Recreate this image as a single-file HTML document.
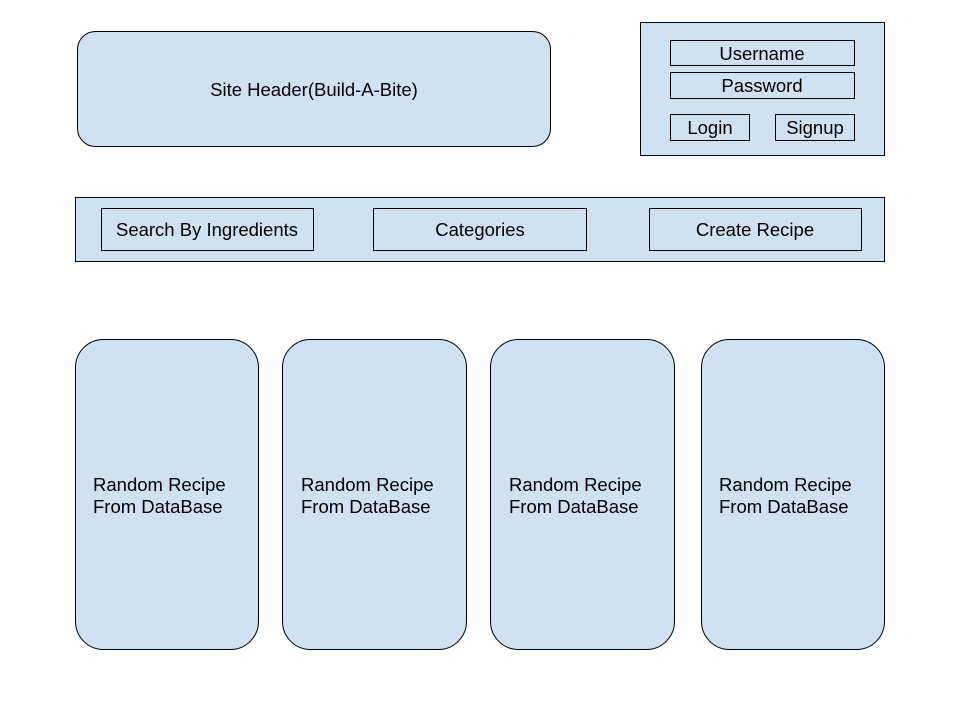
<!DOCTYPE html>
<html><head><style>html,body{margin:0;padding:0;background:#fff;}svg{display:block}</style></head>
<body>
<svg width="960" height="720" xmlns="http://www.w3.org/2000/svg" font-family="Liberation Sans, Arial, sans-serif" font-size="18.5" fill="#000">
<g fill="#cfe2f3" stroke="#000" stroke-width="1">
<rect x="77.5" y="31.5" width="473" height="115" rx="18"/>
<rect x="640.5" y="22.5" width="244" height="133"/>
<rect x="670.5" y="40.5" width="184" height="25"/>
<rect x="670.5" y="72.5" width="184" height="26"/>
<rect x="670.5" y="114.5" width="79" height="26"/>
<rect x="775.5" y="114.5" width="79" height="26"/>
<rect x="75.5" y="197.5" width="809" height="64"/>
<rect x="101.5" y="208.5" width="212" height="42"/>
<rect x="373.5" y="208.5" width="213" height="42"/>
<rect x="649.5" y="208.5" width="212" height="42"/>
<rect x="75.5" y="339.5" width="183" height="310" rx="28"/>
<rect x="282.5" y="339.5" width="184" height="310" rx="28"/>
<rect x="490.5" y="339.5" width="184" height="310" rx="28"/>
<rect x="701.5" y="339.5" width="183" height="310" rx="28"/>
</g>
<g text-anchor="middle">
<text x="314" y="96">Site Header(Build-A-Bite)</text>
<text x="762" y="60">Username</text>
<text x="762" y="92">Password</text>
<text x="710" y="134">Login</text>
<text x="815" y="134">Signup</text>
<text x="207" y="236">Search By Ingredients</text>
<text x="480" y="236">Categories</text>
<text x="755" y="236">Create Recipe</text>
</g>
<text x="93" y="491">Random Recipe</text><text x="93" y="513">From DataBase</text>
<text x="301" y="491">Random Recipe</text><text x="301" y="513">From DataBase</text>
<text x="509" y="491">Random Recipe</text><text x="509" y="513">From DataBase</text>
<text x="719" y="491">Random Recipe</text><text x="719" y="513">From DataBase</text>
</svg>
</body></html>
